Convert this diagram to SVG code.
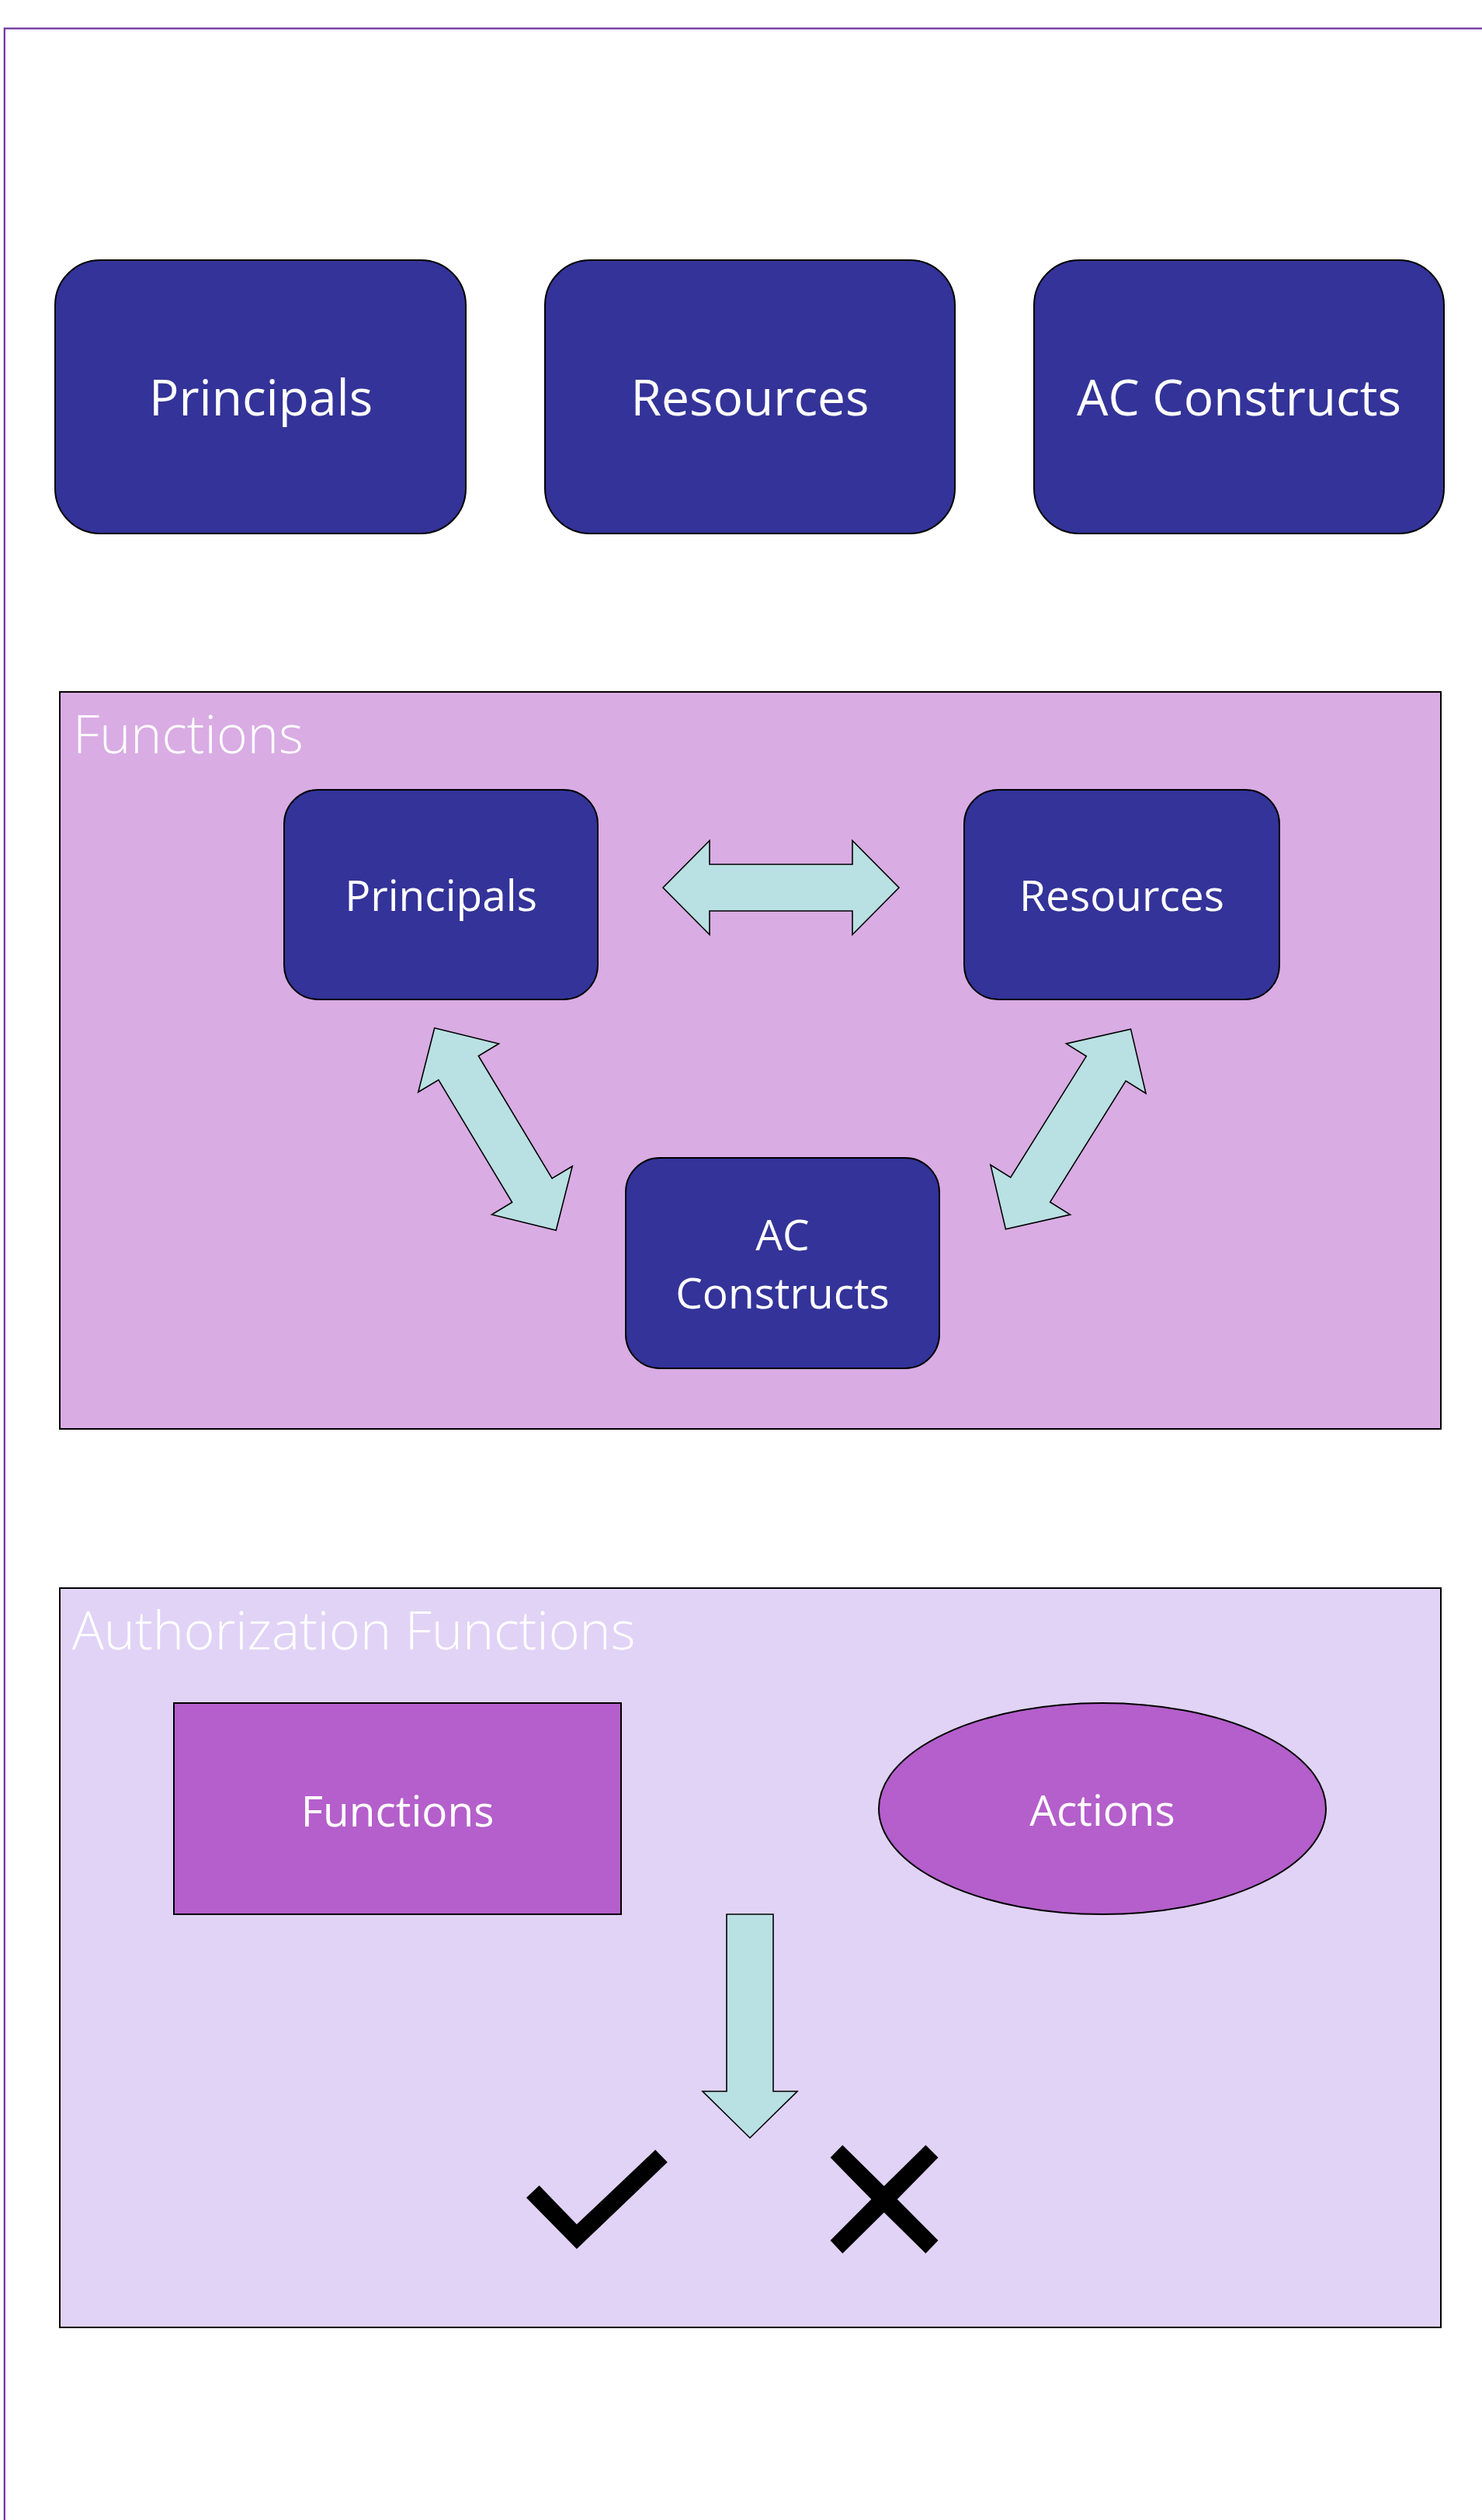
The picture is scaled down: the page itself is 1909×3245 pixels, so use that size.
<svg xmlns="http://www.w3.org/2000/svg" width="1909" height="3245" viewBox="0 0 1909 3245">
<style>
.node{fill:#333399;stroke:#000;stroke-width:2}
.lbl{font-family:"Open Sans","Noto Sans","Liberation Sans",sans-serif;fill:#fff;text-anchor:middle}
.big{font-size:64px}
.mid{font-size:55px}
.title{font-family:"Open Sans","Noto Sans","Liberation Sans",sans-serif;fill:#fff;font-size:68px;font-weight:300}
.arrow{fill:#B9E0E2;stroke:#000;stroke-width:1.6;stroke-linejoin:miter}
.purple{fill:#B45FCB;stroke:#000;stroke-width:2}
</style>
<defs>
<path id="dbl" d="M -152 0 L -92 -60.5 L -92 -30 L 92 -30 L 92 -60.5 L 152 0 L 92 60.5 L 92 30 L -92 30 L -92 60.5 Z"/>
</defs>
<rect x="0" y="0" width="1909" height="3245" fill="#fff"/>
<path d="M 1909 36.7 H 5.8 V 3245" fill="none" stroke="#7030A0" stroke-width="2.2"/>

<g id="top-principals">
<rect class="node" x="71" y="335" width="529" height="352" rx="58" ry="58"/>
<text class="lbl big" x="336" y="535">Principals</text>
</g>
<g id="top-resources">
<rect class="node" x="702" y="335" width="528" height="352" rx="58" ry="58"/>
<text class="lbl big" x="966" y="535">Resources</text>
</g>
<g id="top-ac-constructs">
<rect class="node" x="1332" y="335" width="528" height="352" rx="58" ry="58"/>
<text class="lbl big" x="1596" y="535">AC Constructs</text>
</g>

<g id="functions-section">
<rect x="77" y="891" width="1779" height="949" fill="#D9ACE4" stroke="#000" stroke-width="2"/>
<text class="title" x="94" y="970">Functions</text>
</g>
<g id="fn-principals">
<rect class="node" x="366" y="1017" width="404" height="270" rx="44" ry="44"/>
<text class="lbl mid" x="568" y="1173">Principals</text>
</g>
<g id="fn-resources">
<rect class="node" x="1242" y="1017" width="406" height="270" rx="44" ry="44"/>
<text class="lbl mid" x="1445" y="1173">Resources</text>
</g>
<g id="fn-ac-constructs">
<rect class="node" x="806" y="1491" width="404" height="271" rx="44" ry="44"/>
<text class="lbl mid" x="1008" y="1610">AC</text>
<text class="lbl mid" x="1008" y="1685">Constructs</text>
</g>

<g id="auth-section">
<rect x="77" y="2045" width="1779" height="952" fill="#E1D3F6" stroke="#000" stroke-width="2"/>
<text class="title" x="93" y="2124">Authorization Functions</text>
</g>
<g id="auth-functions">
<rect class="purple" x="224" y="2193" width="576" height="272"/>
<text class="lbl mid" x="512" y="2352">Functions</text>
</g>
<g id="auth-actions">
<ellipse class="purple" cx="1420" cy="2329" rx="288" ry="136"/>
<text class="lbl mid" x="1420" y="2351">Actions</text>
</g>
<g id="result-allow">
<polygon fill="#000" points="678,2830 694.6,2814.3 742.9,2864.3 844.2,2768.3 859.8,2784.3 742.9,2896"/>
</g>
<g id="result-deny">
<polygon fill="#000" points="1085.3,2762.3 1069.6,2778.3 1122.3,2832 1069.6,2885 1085.3,2901.7 1138.8,2849 1192.4,2901.7 1208.5,2885 1155.8,2832 1208.5,2778.3 1192.4,2762.3 1138.8,2815"/>
</g>

<g id="connectors">
<use href="#dbl" class="arrow" transform="translate(1006,1143)"/>
<use href="#dbl" class="arrow" transform="translate(638,1454) rotate(59)"/>
<use href="#dbl" class="arrow" transform="translate(1376,1454) rotate(-58)"/>
<path class="arrow" d="M 936 2465 H 996 V 2693 H 1027 L 966 2753 L 905 2693 H 936 Z"/>
</g>
</svg>
